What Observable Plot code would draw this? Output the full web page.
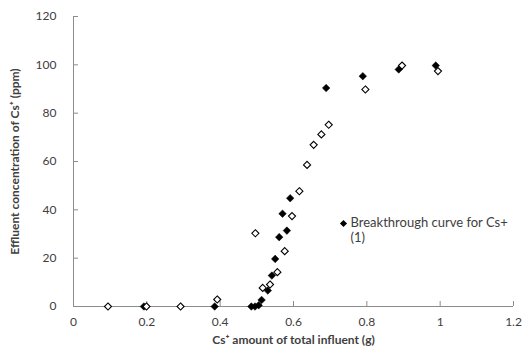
<!DOCTYPE html>
<html>
<head>
<meta charset="utf-8">
<script src="https://cdn.jsdelivr.net/npm/d3@7"></script>
<script src="https://cdn.jsdelivr.net/npm/@observablehq/plot@0.6"></script>
<style>
  html, body { margin: 0; padding: 0; background: #fff; }
  #chart { width: 529px; height: 357px; }
</style>
</head>
<body>
<div id="chart"></div>
<script>
// Series 1: filled diamonds (Breakthrough curve for Cs+ (1))
const filledX = [0.192, 0.385, 0.485, 0.495, 0.505, 0.513, 0.530, 0.541, 0.550, 0.561, 0.570, 0.582, 0.591, 0.689, 0.789, 0.887, 0.988];
const filledY = [0, 0, 0, 0, 0.5, 2.7, 6.6, 12.8, 19.7, 28.7, 38.4, 31.4, 44.8, 90.4, 95.3, 98.1, 99.7];
// Series 2: open diamonds
const openX = [0.094, 0.199, 0.292, 0.392, 0.496, 0.516, 0.536, 0.556, 0.576, 0.596, 0.616, 0.637, 0.655, 0.676, 0.696, 0.796, 0.896, 0.994];
const openY = [0, 0, 0, 2.9, 30.3, 7.7, 9.1, 14.2, 22.9, 37.4, 47.7, 58.6, 66.9, 71.2, 75.2, 89.8, 99.7, 97.4];

const xTicks = [0, 0.2, 0.4, 0.6, 0.8, 1, 1.2];
const yTicks = [0, 20, 40, 60, 80, 100, 120];
const xTitle = "Cs\u207A amount of total influent (g)";
const yTitle = "Effluent concentration of Cs\u207A (ppm)";
const legendText = "Breakthrough curve for Cs+\n(1)";

const filled = filledX.map((x, i) => ({x, y: filledY[i]}));
const open = openX.map((x, i) => ({x, y: openY[i]}));

const axisColor = "#8c8c8c";
const labelColor = "#404040";
const font = "Lato, 'Open Sans', sans-serif";

const chart = Plot.plot({
  width: 529,
  height: 357,
  marginLeft: 73,
  marginRight: 16,
  marginTop: 16,
  marginBottom: 51,
  style: {fontFamily: font, fontSize: "12px", color: labelColor, background: "#fff"},
  x: {domain: [0, 1.2]},
  y: {domain: [0, 120]},
  marks: [
    Plot.ruleX([0], {stroke: axisColor}),
    Plot.ruleY([0], {stroke: axisColor}),
    Plot.axisX(xTicks, {tickSize: -5, stroke: axisColor, text: null, label: null}),
    Plot.axisX(xTicks, {tickSize: 0, tickPadding: 11, tickFormat: d => String(d), fill: labelColor, fontSize: 12, label: null}),
    Plot.axisY(yTicks, {tickSize: -5, stroke: axisColor, text: null, label: null}),
    Plot.axisY(yTicks, {tickSize: 0, tickPadding: 17, fill: labelColor, fontSize: 12, label: null}),
    Plot.text([xTitle], {frameAnchor: "bottom", dy: 37, text: d => d, fontWeight: "bold", fontSize: 12, fill: labelColor}),
    Plot.text([yTitle], {frameAnchor: "left", dx: -58, rotate: -90, textAnchor: "middle", text: d => d, fontWeight: "bold", fontSize: 12, fill: labelColor}),
    Plot.dot(filled, {x: "x", y: "y", symbol: "diamond2", r: 3.4, fill: "#000", stroke: "#000", strokeWidth: 0.5}),
    Plot.dot(open, {x: "x", y: "y", symbol: "diamond2", r: 3.2, fill: "#fff", stroke: "#000", strokeWidth: 1.1}),
    Plot.dot([legendText], {frameAnchor: "top-left", dx: 270, dy: 207, symbol: "diamond2", r: 3.2, fill: "#000"}),
    Plot.text([legendText], {frameAnchor: "top-left", dx: 277, dy: 199, text: d => d, textAnchor: "start", lineAnchor: "top",
      fontSize: 13, lineHeight: 1.2, fill: labelColor})
  ]
});
document.getElementById("chart").appendChild(chart);
</script>
</body>
</html>
